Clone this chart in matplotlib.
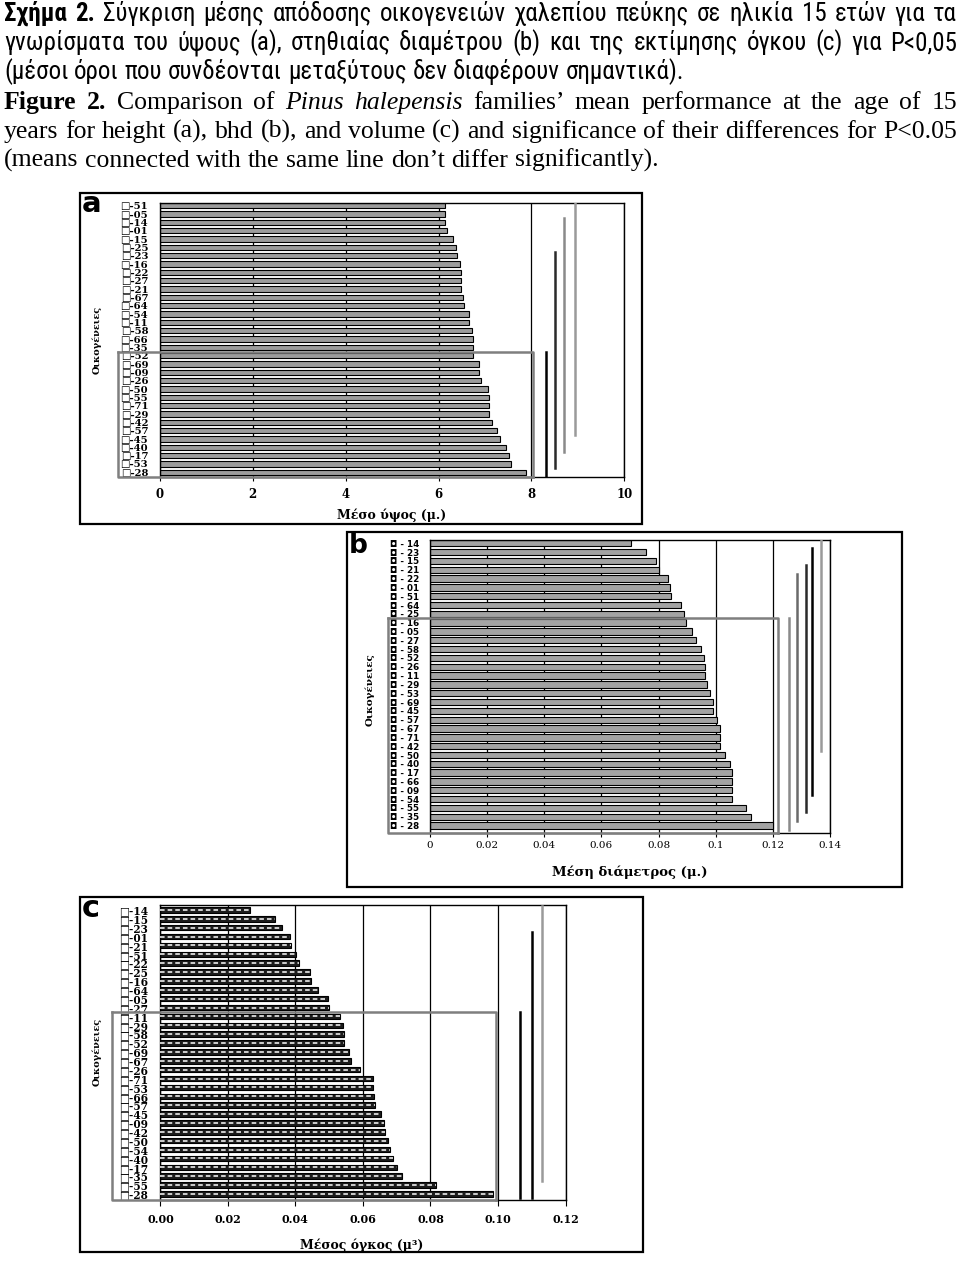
import matplotlib
matplotlib.use('Agg')
import matplotlib.pyplot as plt
from matplotlib import font_manager as fm
from matplotlib.patches import Rectangle
from matplotlib.ticker import FuncFormatter
import numpy as np

# =============================================================================
# data
# =============================================================================
fam_a = ['51', '05', '14', '01', '15', '25', '23', '16', '22', '27', '21', '67',
         '64', '54', '11', '58', '66', '35', '52', '69', '09', '26', '50', '55',
         '71', '29', '42', '57', '45', '40', '17', '53', '28']
height_a = [6.14, 6.14, 6.14, 6.18, 6.32, 6.38, 6.39, 6.47, 6.49, 6.48, 6.48, 6.52,
            6.55, 6.65, 6.66, 6.72, 6.75, 6.75, 6.75, 6.86, 6.88, 6.92, 7.06, 7.08,
            7.08, 7.08, 7.15, 7.26, 7.33, 7.46, 7.52, 7.57, 7.88]
sig_a_x = [8.31, 8.51, 8.71, 8.94]
sig_a_from = [18, 6, 2, 0]
sig_a_to = [32, 31, 29, 27]
box_a_row, box_a_x = 18, 8.04

fam_b = ['14', '23', '15', '21', '22', '01', '51', '64', '25', '16', '05', '27',
         '58', '52', '26', '11', '29', '53', '69', '45', '57', '67', '71', '42',
         '50', '40', '17', '66', '09', '54', '55', '35', '28']
bhd_b = [0.0704, 0.0756, 0.0791, 0.0802, 0.0833, 0.0840, 0.0844, 0.0879, 0.0889,
         0.0896, 0.0917, 0.0931, 0.0949, 0.0959, 0.0963, 0.0963, 0.0968, 0.0980,
         0.0990, 0.0992, 0.1005, 0.1015, 0.1015, 0.1015, 0.1033, 0.1050, 0.1056,
         0.1056, 0.1056, 0.1056, 0.1105, 0.1123, 0.1202]
sig_b_x = [0.1257, 0.1284, 0.1315, 0.1337, 0.1370]
sig_b_from = [9, 4, 3, 1, 0]
sig_b_to = [32, 31, 30, 28, 23]
box_b_row, box_b_x = 9, 0.1217

fam_c = ['14', '15', '23', '01', '21', '51', '22', '25', '16', '64', '05', '27',
         '11', '29', '58', '52', '69', '67', '26', '71', '53', '66', '57', '45',
         '09', '42', '50', '54', '40', '17', '35', '55', '28']
vol_c = [0.0265, 0.0339, 0.0359, 0.0383, 0.0386, 0.0401, 0.0412, 0.0442, 0.0445,
         0.0466, 0.0495, 0.0498, 0.0531, 0.0542, 0.0545, 0.0545, 0.0560, 0.0566,
         0.0590, 0.0631, 0.0631, 0.0634, 0.0637, 0.0652, 0.0661, 0.0664, 0.0675,
         0.0681, 0.0690, 0.0702, 0.0717, 0.0817, 0.0985]
sig_c_x = [0.1064, 0.1102, 0.1129]
sig_c_from = [12, 3, 0]
sig_c_to = [32, 32, 30]
box_c_row, box_c_x = 12, 0.0995

caption = [
    ([('Σχήμα 2.', 'gb'), ('Σύγκριση μέσης απόδοσης οικογενειών χαλεπίου πεύκης σε ηλικία 15 ετών για τα', 'g')], True),
    ([('γνωρίσματα του ύψους (a), στηθιαίας διαμέτρου (b) και της εκτίμησης όγκου (c) για P<0,05', 'g')], True),
    ([('(μέσοι όροι που συνδέονται μεταξύτους δεν διαφέρουν σημαντικά).', 'g')], False),
    ([('Figure 2.', 'eb'), ('Comparison of', 'e'), ('Pinus halepensis', 'ei'),
      ('families’ mean performance at the age of 15', 'e')], True),
    ([('years for height (a), bhd (b), and volume (c) and significance of their differences for P<0.05', 'e')], True),
    ([('(means connected with the same line don’t differ significantly).', 'e')], False),
]

# =============================================================================
# figure
# =============================================================================
W, H = 960, 1262
fig = plt.figure(figsize=(W / 100, H / 100), dpi=100)
fig.patch.set_facecolor('white')
r = fig.canvas.get_renderer()


def pick(*names):
    for n in names:
        try:
            fm.findfont(fm.FontProperties(family=n), fallback_to_default=False)
            return n
        except Exception:
            pass
    return 'DejaVu Sans'


GR = pick('Liberation Sans Narrow', 'Roboto Condensed', 'Open Sans Condensed', 'Liberation Sans')
EN = pick('Liberation Serif', 'DejaVu Serif')
SERIF = ['DejaVu Serif', 'DejaVu Sans']


def fit_size(txt, kw, target):
    t = fig.text(0, 0, txt, size=10, **kw)
    w = t.get_window_extent(renderer=r).width
    t.remove()
    return 10 * target / w


gr_size = fit_size(caption[2][0][0][0], dict(family=GR), 679)
en_size = fit_size(caption[5][0][0][0], dict(family=EN), 653)
styles = {'g': dict(family=GR, size=gr_size),
          'gb': dict(family=GR, size=gr_size, weight='bold'),
          'e': dict(family=EN, size=en_size),
          'eb': dict(family=EN, size=en_size, weight='bold'),
          'ei': dict(family=EN, size=en_size, style='italic')}
baselines = [21, 50, 79, 109, 138, 167]

for (parts, justify), yb in zip(caption, baselines):
    words = [(w, styles[s]) for txt, s in parts for w in txt.split()]
    arts = [fig.text(0, 1 - yb / H, w, va='baseline', ha='left', **kw) for w, kw in words]
    widths = [a.get_window_extent(renderer=r).width for a in arts]
    if justify:
        gap = (957 - 4 - sum(widths)) / (len(arts) - 1)
    else:
        kw = words[0][1]
        t1 = fig.text(0, 0, 'a a', **kw)
        t2 = fig.text(0, 0, 'aa', **kw)
        gap = t1.get_window_extent(renderer=r).width - t2.get_window_extent(renderer=r).width
        t1.remove()
        t2.remove()
    x = 4
    for a, w in zip(arts, widths):
        a.set_x(x / W)
        x += w + gap


def frame(l, t, rr, b):
    fig.add_artist(Rectangle((l / W, 1 - b / H), (rr - l) / W, (b - t) / H,
                             transform=fig.transFigure, fill=False, lw=1.6, ec='black'))


def panel(rect, ylim, labels, vals, xmax, step, fmt, lab_kw, lab_pad,
          sig_x, sig_from, sig_to, sig_cols, box_row, box_x, box_left):
    l, t, rr, b = rect
    ax = fig.add_axes([l / W, 1 - b / H, (rr - l) / W, (b - t) / H])
    y = np.arange(len(labels))
    ax.set_xlim(0, xmax)
    ax.set_ylim(*ylim)
    ax.set_xticks(np.arange(0, xmax + step / 2, step))
    ax.xaxis.set_major_formatter(FuncFormatter(fmt))
    ax.grid(axis='x', color='black', lw=0.9)
    ax.set_axisbelow(True)
    ax.set_yticks(y)
    ax.set_yticklabels(labels, **lab_kw)
    ax.tick_params(axis='y', length=0, pad=lab_pad)
    for s in ax.spines.values():
        s.set_linewidth(1.0)
    for xv, r0, r1, c in zip(sig_x, sig_from, sig_to, sig_cols):
        ax.plot([xv, xv], [r0 - 0.5, r1 + 0.5], color=c, lw=1.8, zorder=4)
    xl = ax.transData.inverted().transform((box_left, 0))[0]
    top, bot = box_row - 0.5, ylim[0]
    ax.plot([xl, box_x, box_x], [top, top, bot], color='#7f7f7f', lw=1.8,
            clip_on=False, zorder=5)
    ax.plot([xl, xl, box_x], [top, bot, bot], color='#7f7f7f', lw=1.8,
            clip_on=False, zorder=5)
    return ax, y


# ---------------------------------------------------------------- panel a
frame(80, 193, 642, 524)
ax, y = panel((160, 203, 624.3, 477), (32.56, -0.32), ['□-' + f for f in fam_a],
              height_a, 10, 2, lambda v, p: '%d' % round(v),
              dict(family=SERIF, size=7.2, weight='bold'), 8.5,
              sig_a_x, sig_a_from, sig_a_to, ['black', '#2a2a2a', '#8a8a8a', '#9a9a9a'],
              box_a_row, box_a_x, 118)
ax.barh(y, height_a, height=0.62, color='#9c9c9c', edgecolor='black', lw=0.8, zorder=2)
ax.tick_params(axis='x', length=3, pad=5)
for tl in ax.get_xticklabels():
    tl.set_fontproperties(fm.FontProperties(family='DejaVu Serif', weight='bold', size=8.5))
fig.text(392 / W, 1 - 515 / H, 'Μέσο ύψος (μ.)', ha='center', va='center',
         family='DejaVu Serif', weight='bold', size=9)
fig.text(97 / W, 1 - 340 / H, 'Οικογένειες', ha='center', va='center', rotation=90,
         family='DejaVu Serif', weight='bold', size=7)
fig.text(82 / W, 1 - 212 / H, 'a', ha='left', va='baseline', family='DejaVu Sans',
         weight='bold', size=21)

# ---------------------------------------------------------------- panel b
frame(347, 532, 902, 887)
ax, y = panel((430, 540, 830, 833), (32.84, -0.37), ['◘ - ' + f for f in fam_b],
              bhd_b, 0.14, 0.02, lambda v, p: '%g' % round(v, 2),
              dict(family='DejaVu Sans', size=6.3, weight='bold'), 8,
              sig_b_x, sig_b_from, sig_b_to,
              ['#8a8a8a', '#6a6a6a', '#2a2a2a', 'black', '#9a9a9a'],
              box_b_row, box_b_x, 388)
ax.barh(y, bhd_b, height=0.72, color='#a3a3a3', edgecolor='black', lw=0.8, zorder=2)
ax.tick_params(axis='x', length=3, pad=3)
for tl in ax.get_xticklabels():
    tl.set_fontproperties(fm.FontProperties(family='DejaVu Serif', size=7.5))
fig.text(630 / W, 1 - 872 / H, 'Μέση διάμετρος (μ.)', ha='center', va='center',
         family='DejaVu Serif', weight='bold', size=9.5)
fig.text(370 / W, 1 - 690 / H, 'Οικογένειες', ha='center', va='center', rotation=90,
         family='DejaVu Serif', weight='bold', size=7.5)
fig.text(349 / W, 1 - 553 / H, 'b', ha='left', va='baseline', family='DejaVu Sans',
         weight='bold', size=19)

# ---------------------------------------------------------------- panel c
frame(80, 897, 643, 1252)
ax, y = panel((160.4, 905, 565.5, 1200), (32.68, -0.56), ['□-' + f for f in fam_c],
              vol_c, 0.12, 0.02, lambda v, p: '%.2f' % v,
              dict(family=SERIF, size=7.6, weight='bold'), 9,
              sig_c_x, sig_c_from, sig_c_to, ['black', 'black', '#9a9a9a'],
              box_c_row, box_c_x, 112)
ax.barh(y, vol_c, height=0.62, color='#1c1c1c', edgecolor='black', lw=0.8, zorder=2)
ax.hlines(y, 0, vol_c, colors='white', linestyles=(0, (3, 2)), lw=1.1, zorder=3)
ax.tick_params(axis='x', length=4, pad=6)
for tl in ax.get_xticklabels():
    tl.set_fontproperties(fm.FontProperties(family='DejaVu Serif', weight='bold', size=8))
fig.text(362 / W, 1 - 1245 / H, 'Μέσος όγκος (μ³)', ha='center', va='center',
         family='DejaVu Serif', weight='bold', size=9)
fig.text(97 / W, 1 - 1052 / H, 'Οικογένειες', ha='center', va='center', rotation=90,
         family='DejaVu Serif', weight='bold', size=7)
fig.text(82 / W, 1 - 917 / H, 'c', ha='left', va='baseline', family='DejaVu Sans',
         weight='bold', size=22)

fig.savefig('out.png', dpi=100, facecolor='white')
